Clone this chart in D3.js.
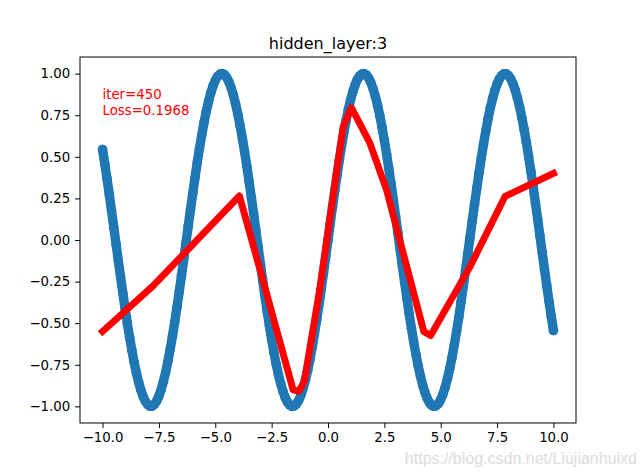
<!DOCTYPE html>
<html>
<head>
<meta charset="utf-8">
<script src="https://cdn.jsdelivr.net/npm/d3@7"></script>
<style>
  html, body { margin: 0; padding: 0; background: #fff; }
  svg { display: block; }
</style>
</head>
<body>
<svg id="chart" width="640" height="476"></svg>
<script>
// Scatter samples (blue points): x from -10 to 10
const scatterX = [
-10.0,-9.9,-9.8,-9.7,-9.6,-9.5,-9.4,-9.3,-9.2,-9.1,-9.0,-8.9,-8.8,-8.7,-8.6,-8.5,-8.4,-8.3,-8.2,-8.1,
-8.0,-7.9,-7.8,-7.7,-7.6,-7.5,-7.4,-7.3,-7.2,-7.1,-7.0,-6.9,-6.8,-6.7,-6.6,-6.5,-6.4,-6.3,-6.2,-6.1,
-6.0,-5.9,-5.8,-5.7,-5.6,-5.5,-5.4,-5.3,-5.2,-5.1,-5.0,-4.9,-4.8,-4.7,-4.6,-4.5,-4.4,-4.3,-4.2,-4.1,
-4.0,-3.9,-3.8,-3.7,-3.6,-3.5,-3.4,-3.3,-3.2,-3.1,-3.0,-2.9,-2.8,-2.7,-2.6,-2.5,-2.4,-2.3,-2.2,-2.1,
-2.0,-1.9,-1.8,-1.7,-1.6,-1.5,-1.4,-1.3,-1.2,-1.1,-1.0,-0.9,-0.8,-0.7,-0.6,-0.5,-0.4,-0.3,-0.2,-0.1,
0.0,0.1,0.2,0.3,0.4,0.5,0.6,0.7,0.8,0.9,1.0,1.1,1.2,1.3,1.4,1.5,1.6,1.7,1.8,1.9,
2.0,2.1,2.2,2.3,2.4,2.5,2.6,2.7,2.8,2.9,3.0,3.1,3.2,3.3,3.4,3.5,3.6,3.7,3.8,3.9,
4.0,4.1,4.2,4.3,4.4,4.5,4.6,4.7,4.8,4.9,5.0,5.1,5.2,5.3,5.4,5.5,5.6,5.7,5.8,5.9,
6.0,6.1,6.2,6.3,6.4,6.5,6.6,6.7,6.8,6.9,7.0,7.1,7.2,7.3,7.4,7.5,7.6,7.7,7.8,7.9,
8.0,8.1,8.2,8.3,8.4,8.5,8.6,8.7,8.8,8.9,9.0,9.1,9.2,9.3,9.4,9.5,9.6,9.7,9.8,9.9,10.0];
const scatterY = [
0.544,0.458,0.367,0.272,0.174,0.075,-0.025,-0.125,-0.223,-0.319,-0.412,-0.501,-0.585,-0.663,-0.734,-0.799,-0.855,-0.902,-0.941,-0.970,
-0.989,-0.999,-0.999,-0.988,-0.968,-0.938,-0.899,-0.850,-0.794,-0.729,-0.657,-0.578,-0.494,-0.405,-0.312,-0.215,-0.117,-0.017,0.083,0.182,
0.279,0.374,0.465,0.551,0.631,0.706,0.773,0.832,0.884,0.926,0.959,0.983,0.996,1.000,0.994,0.978,0.952,0.916,0.872,0.818,
0.757,0.688,0.612,0.530,0.443,0.351,0.256,0.158,0.058,-0.042,-0.141,-0.239,-0.335,-0.427,-0.516,-0.598,-0.676,-0.746,-0.808,-0.863,
-0.909,-0.946,-0.974,-0.992,-1.000,-0.997,-0.985,-0.964,-0.932,-0.891,-0.841,-0.783,-0.717,-0.644,-0.565,-0.479,-0.389,-0.296,-0.199,-0.100,
0.000,0.100,0.199,0.296,0.389,0.479,0.565,0.644,0.717,0.783,0.841,0.891,0.932,0.964,0.985,0.997,1.000,0.992,0.974,0.946,
0.909,0.863,0.808,0.746,0.676,0.598,0.516,0.427,0.335,0.239,0.141,0.042,-0.058,-0.158,-0.256,-0.351,-0.443,-0.530,-0.612,-0.688,
-0.757,-0.818,-0.872,-0.916,-0.952,-0.978,-0.994,-1.000,-0.996,-0.983,-0.959,-0.926,-0.884,-0.832,-0.773,-0.706,-0.631,-0.551,-0.465,-0.374,
-0.279,-0.182,-0.083,0.017,0.117,0.215,0.312,0.405,0.494,0.578,0.657,0.729,0.794,0.850,0.899,0.938,0.968,0.988,0.999,0.999,
0.989,0.970,0.941,0.902,0.855,0.799,0.734,0.663,0.585,0.501,0.412,0.319,0.223,0.125,0.025,-0.075,-0.174,-0.272,-0.367,-0.458,-0.544];

// Red prediction line vertices
const predX = [-10.0, -7.76, -3.93, -2.89, -1.55, -1.30, -1.05, -0.37, 0.37, 0.67, 1.04, 1.85, 2.60, 4.25, 4.55, 6.30, 7.85, 10.0];
const predY = [-0.55, -0.276, 0.265, -0.24, -0.90, -0.91, -0.85, -0.30, 0.40, 0.68, 0.795, 0.585, 0.30, -0.55, -0.575, -0.16, 0.262, 0.40];

const xTicks = [-10, -7.5, -5, -2.5, 0, 2.5, 5, 7.5, 10];
const yTicks = [-1.0, -0.75, -0.5, -0.25, 0, 0.25, 0.5, 0.75, 1.0];
const titleText = "hidden_layer:3";
const noteLines = ["iter=450", "Loss=0.1968"];
const watermark = "https://blog.csdn.net/Liujianhuixd";

const svg = d3.select("#chart");
const L = 80, R = 576, T = 57, B = 423;
const x = d3.scaleLinear().domain([-11, 11]).range([L, R]);
const y = d3.scaleLinear().domain([-1.1, 1.1]).range([B, T]);
const FONT = "'DejaVu Sans', sans-serif";
const fmtMinus = s => s.replace("-", "\u2212");

// Clip
svg.append("defs").append("clipPath").attr("id", "clip")
  .append("rect").attr("x", L).attr("y", T).attr("width", R - L).attr("height", B - T);

const plot = svg.append("g").attr("clip-path", "url(#clip)");

const pts = scatterX.map((d, i) => [d, scatterY[i]]);
const blue = "#1f77b4";
plot.append("path")
  .attr("d", d3.line().x(d => x(d[0])).y(d => y(d[1]))(pts))
  .attr("fill", "none").attr("stroke", blue).attr("stroke-width", 9.4)
  .attr("stroke-linejoin", "round").attr("stroke-linecap", "round");
plot.selectAll("circle.s").data(pts).enter().append("circle")
  .attr("class", "s")
  .attr("cx", d => x(d[0])).attr("cy", d => y(d[1])).attr("r", 4.8)
  .attr("fill", blue);

const pred = predX.map((d, i) => [d, predY[i]]);
plot.append("path")
  .attr("d", d3.line().x(d => x(d[0])).y(d => y(d[1]))(pred))
  .attr("fill", "none").attr("stroke", "#ff0000").attr("stroke-width", 6.9)
  .attr("stroke-linejoin", "round").attr("stroke-linecap", "square");

// Axes
const xAxis = d3.axisBottom(x).tickValues(xTicks).tickSize(4.9).tickPadding(4.9)
  .tickFormat(d => fmtMinus(d3.format(".1f")(d)));
const gx = svg.append("g").attr("transform", `translate(0,${B})`).call(xAxis);
const yAxis = d3.axisLeft(y).tickValues(yTicks).tickSize(4.9).tickPadding(4.9)
  .tickFormat(d => fmtMinus(d3.format(".2f")(d)));
const gy = svg.append("g").attr("transform", `translate(${L},0)`).call(yAxis);
[gx, gy].forEach(g => {
  g.select(".domain").remove();
  g.selectAll(".tick line").attr("stroke", "#000").attr("stroke-width", 1);
  g.selectAll(".tick text").attr("fill", "#000").style("font-family", FONT).style("font-size", "13.3px");
});

// Frame
svg.append("rect").attr("x", L).attr("y", T).attr("width", R - L).attr("height", B - T)
  .attr("fill", "none").attr("stroke", "#000").attr("stroke-width", 1);

// Title
svg.append("text").attr("x", (L + R) / 2).attr("y", 49).attr("text-anchor", "middle")
  .style("font-family", FONT).style("font-size", "16px").attr("fill", "#000").text(titleText);

// Annotation
svg.append("g").selectAll("text").data(noteLines).enter().append("text")
  .attr("x", x(-10)).attr("y", (d, i) => y(0.75) - (noteLines.length - 1 - i) * 16.7)
  .style("font-family", FONT).style("font-size", "13.3px").attr("fill", "#ff0000").text(d => d);

// Watermark
svg.append("text").attr("x", 637).attr("y", 464).attr("text-anchor", "end")
  .style("font-family", "'Liberation Sans', Arial, sans-serif").style("font-size", "16px")
  .attr("fill", "#dcdcdc").text(watermark);
</script>
</body>
</html>
